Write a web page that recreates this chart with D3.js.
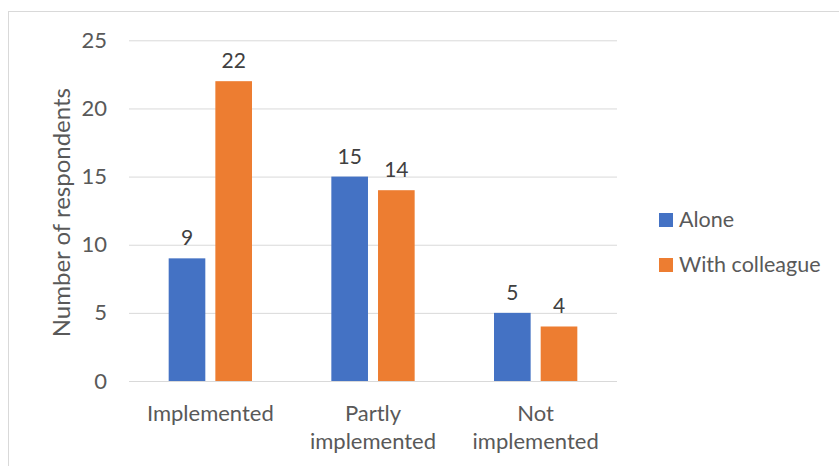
<!DOCTYPE html>
<html>
<head>
<meta charset="utf-8">
<script src="https://cdn.jsdelivr.net/npm/d3@7.9.0/dist/d3.min.js"></script>
<style>
  body { margin: 0; background: #fff; }
  svg { display: block; font-family: Lato, "Open Sans", sans-serif; }
</style>
</head>
<body>
<div id="chart"></div>
<script>
const categories = [['Implemented'], ['Partly', 'implemented'], ['Not', 'implemented']];
const series = ['Alone', 'With colleague'];
const alone = [9, 15, 5];
const withColleague = [22, 14, 4];
const yTicks = [0, 5, 10, 15, 20, 25];
const colors = ['#4472C4', '#ED7D31'];

const width = 839, height = 466;
const plot = { left: 129, right: 617, top: 40.3, bottom: 381 };
const textColor = '#595959';

const svg = d3.select('#chart').append('svg')
  .attr('width', width).attr('height', height);

// frame
svg.append('rect')
  .attr('x', 8.5).attr('y', 11.5)
  .attr('width', 900).attr('height', 500)
  .attr('fill', 'none').attr('stroke', '#d9d9d9');

const catKeys = categories.map(c => c.join(' '));
const x0 = d3.scaleBand().domain(catKeys).range([plot.left, plot.right]);
const x1 = d3.scaleBand().domain(series).range([0, x0.bandwidth()])
  .paddingInner(0.215).paddingOuter(0.85);
const y = d3.scaleLinear().domain([0, 25]).range([plot.bottom, plot.top]);

// gridlines
svg.append('g')
  .attr('transform', `translate(${plot.left},0)`)
  .call(d3.axisLeft(y).tickValues(yTicks).tickSize(-(plot.right - plot.left)).tickFormat(''))
  .call(g => g.select('.domain').remove())
  .call(g => g.selectAll('line').attr('stroke', '#d9d9d9').attr('stroke-width', 1));

// y tick labels
svg.append('g')
  .attr('transform', `translate(${plot.left},0)`)
  .call(d3.axisLeft(y).tickValues(yTicks).tickSize(0).tickPadding(22))
  .call(g => g.select('.domain').remove())
  .call(g => g.selectAll('text').attr('fill', textColor)
    .style('font-size', '22px').style('font-family', 'Lato, sans-serif'));

const rows = catKeys.map((k, i) => ({ key: k, values: [alone[i], withColleague[i]] }));

const groups = svg.append('g').selectAll('g')
  .data(rows).join('g')
  .attr('transform', d => `translate(${x0(d.key)},0)`);

groups.selectAll('rect')
  .data(d => d.values.map((v, i) => ({ s: series[i], v, i })))
  .join('rect')
  .attr('x', d => x1(d.s))
  .attr('width', x1.bandwidth())
  .attr('y', d => y(d.v))
  .attr('height', d => y(0) - y(d.v))
  .attr('fill', d => colors[d.i]);

groups.selectAll('text.val')
  .data(d => d.values.map((v, i) => ({ s: series[i], v, i })))
  .join('text')
  .attr('class', 'val')
  .attr('x', d => x1(d.s) + x1.bandwidth() / 2)
  .attr('y', d => y(d.v) - 13)
  .attr('text-anchor', 'middle')
  .attr('fill', '#404040')
  .style('font-size', '21px')
  .text(d => d.v);

// x category labels
const xl = svg.append('g').selectAll('text')
  .data(categories).join('text')
  .attr('x', (d, i) => x0(catKeys[i]) + x0.bandwidth() / 2)
  .attr('y', 421)
  .attr('text-anchor', 'middle')
  .attr('fill', textColor)
  .style('font-size', '22px');
xl.selectAll('tspan')
  .data(d => d).join('tspan')
  .attr('x', function() { return this.parentNode.getAttribute('x'); })
  .attr('dy', (d, i) => i === 0 ? 0 : 28)
  .text(d => d);

// y axis title
svg.append('text')
  .attr('transform', `translate(70,${(plot.top + plot.bottom) / 2 + 2}) rotate(-90)`)
  .attr('text-anchor', 'middle')
  .attr('fill', textColor)
  .style('font-size', '24px')
  .text('Number of respondents');

// legend
const legend = svg.append('g').selectAll('g')
  .data(series).join('g')
  .attr('transform', (d, i) => `translate(659,${213 + i * 45})`);
legend.append('rect').attr('width', 14).attr('height', 14)
  .attr('fill', (d, i) => colors[i]);
legend.append('text').attr('x', 20).attr('y', 14)
  .attr('fill', textColor).style('font-size', '21.5px')
  .text(d => d);
</script>
</body>
</html>
